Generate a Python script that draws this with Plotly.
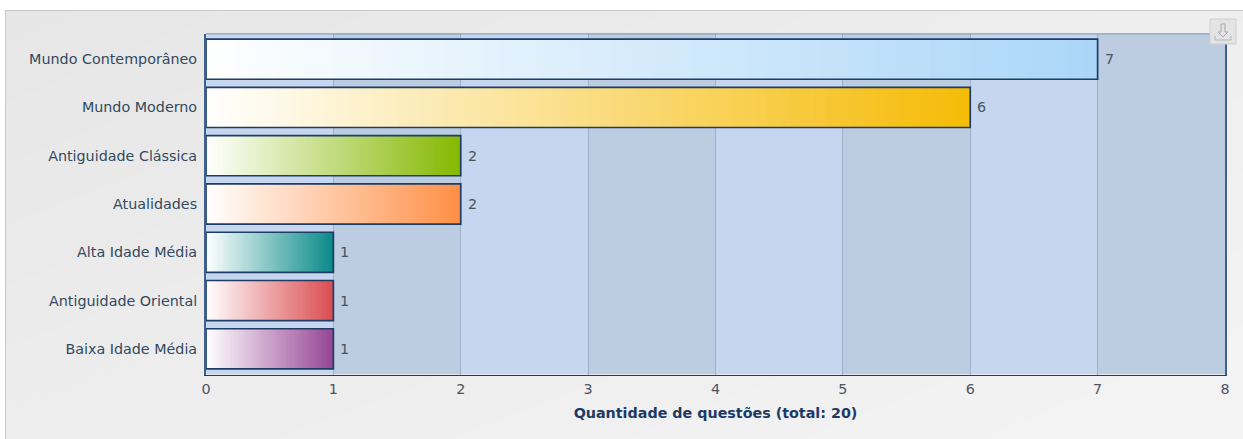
import plotly.graph_objects as go

# --- data ---
categories = ["Mundo Contemporâneo", "Mundo Moderno", "Antiguidade Clássica", "Atualidades",
              "Alta Idade Média", "Antiguidade Oriental", "Baixa Idade Média"]
values = [7, 6, 2, 2, 1, 1, 1]
end_colors = [(170, 214, 248), (245, 187, 6), (133, 184, 0), (255, 143, 69),
              (10, 138, 138), (219, 76, 80), (150, 69, 149)]
x_ticks = [0, 1, 2, 3, 4, 5, 6, 7, 8]
axis_title = "Quantidade de questões (total: 20)"

W, H = 1243, 439
L, R, T, B = 206, 1225, 33.5, 374.5
STEPS = 64
BAR_W = 0.83
FONT = "DejaVu Sans"
FS = 14.3

fig = go.Figure()

# panel background (soft diagonal grey gradient) on its own hidden axes
fig.add_trace(go.Heatmap(x=[0, 1], y=[0, 1], z=[[0.5, 1.0], [0.0, 0.6]],
                         zsmooth="best", showscale=False, hoverinfo="skip",
                         colorscale=[[0, "#e6e6e6"], [1, "#f4f4f4"]],
                         xaxis="x", yaxis="y"))

# gradient bars: overlaid layers, each starting further along the bar
for s in range(STEPS):
    t = s / STEPS
    tc = (s + 0.5) / STEPS
    colors = ["rgb(%d,%d,%d)" % tuple(round(255 + (c - 255) * tc) for c in col) for col in end_colors]
    fig.add_trace(go.Bar(
        y=categories, x=[v * (1 - t) for v in values], base=[v * t for v in values],
        orientation="h", width=BAR_W, marker=dict(color=colors, line=dict(width=0)),
        hoverinfo="skip", showlegend=False, xaxis="x2", yaxis="y2"))

# outline
fig.add_trace(go.Bar(
    y=categories, x=values, orientation="h", width=BAR_W,
    marker=dict(color="rgba(0,0,0,0)", line=dict(color="#1d3c66", width=1.7)),
    hovertemplate="%{y}: %{x}<extra></extra>", showlegend=False, xaxis="x2", yaxis="y2"))

# value labels
annotations = [dict(x=v, y=c, xref="x2", yref="y2", text=str(v), showarrow=False, xanchor="left",
                    xshift=5, font=dict(family=FONT, size=FS, color="#465460"))
               for c, v in zip(categories, values)]

ylo, yhi = -0.533, len(categories) - 0.467
shapes = []
# alternating bands, from the axis ticks
for a, b in zip(x_ticks[:-1], x_ticks[1:]):
    shapes.append(dict(type="rect", xref="x2", yref="y2", x0=a, x1=b, y0=ylo, y1=yhi,
                       layer="below", line_width=0,
                       fillcolor="#c6d6ef" if a % 2 == 0 else "#bccde2"))
# top frame line
shapes.append(dict(type="line", xref="x2", yref="y2", x0=x_ticks[0], x1=x_ticks[-1], y0=ylo, y1=ylo,
                   line=dict(color="#5b7ba3", width=1.5)))

def px(x):
    return x / W
def py(y):
    return 1 - y / H

# panel border
shapes.append(dict(type="line", xref="paper", yref="paper", x0=px(5), x1=1, y0=py(10.5), y1=py(10.5),
                   line=dict(color="#c9c9c9", width=1)))
shapes.append(dict(type="line", xref="paper", yref="paper", x0=px(5.5), x1=px(5.5), y0=0, y1=py(10),
                   line=dict(color="#c9c9c9", width=1)))
# download button
shapes.append(dict(type="rect", xref="paper", yref="paper", x0=px(1210), x1=px(1236), y0=py(44), y1=py(19),
                   fillcolor="#e4e4e4", line=dict(color="#d0d0d0", width=1)))
shapes.append(dict(type="path", xref="paper", yref="paper",
                   path="M %f %f L %f %f L %f %f L %f %f L %f %f L %f %f L %f %f Z" % (
                       px(1221), py(24), px(1225), py(24), px(1225), py(32), px(1228), py(32),
                       px(1223), py(37), px(1218), py(32), px(1221), py(32)),
                   fillcolor="rgba(0,0,0,0)", line=dict(color="#a9a9a9", width=1)))
shapes.append(dict(type="path", xref="paper", yref="paper",
                   path="M %f %f L %f %f L %f %f L %f %f" % (
                       px(1215), py(36), px(1215), py(40), px(1231), py(40), px(1231), py(36)),
                   line=dict(color="#b5b5b5", width=1)))

fig.update_layout(
    width=W, height=H, autosize=False, margin=dict(l=0, r=0, t=0, b=0, pad=0, autoexpand=False),
    paper_bgcolor="#ffffff", plot_bgcolor="rgba(0,0,0,0)", barmode="overlay", showlegend=False,
    font=dict(family=FONT, size=FS),
    xaxis=dict(domain=[5 / W, 1], range=[0, 1], visible=False, fixedrange=True),
    yaxis=dict(domain=[0, 1 - 10 / H], range=[0, 1], visible=False, fixedrange=True),
    xaxis2=dict(domain=[L / W, R / W], range=[0, 8], anchor="y2", tickvals=x_ticks, showgrid=True,
                gridcolor="#9fb0c8", gridwidth=1, zeroline=False, showline=True, linecolor="#1d3c66",
                linewidth=1, mirror=False, ticks="outside", ticklen=1, tickcolor="rgba(0,0,0,0)",
                automargin=False,
                tickfont=dict(family=FONT, size=FS, color="#4a5560"),
                title=dict(text="<b>%s</b>" % axis_title, standoff=12,
                           font=dict(family=FONT, size=FS, color="#1c3a66"))),
    yaxis2=dict(domain=[1 - B / H, 1 - T / H], anchor="x2", autorange=False,
                range=[yhi, ylo], type="category", categoryorder="array",
                categoryarray=categories, showgrid=False, zeroline=False, showline=True,
                linecolor="#3d6290", linewidth=2, mirror=True, ticks="outside", ticklen=4,
                automargin=False,
                tickcolor="rgba(0,0,0,0)", tickfont=dict(family=FONT, size=FS, color="#33495f")),
    shapes=shapes,
    annotations=annotations,
)
fig.write_html("out.html", config=dict(displayModeBar=False),
               post_script="document.body.style.margin='0';document.body.style.overflow='hidden';")
